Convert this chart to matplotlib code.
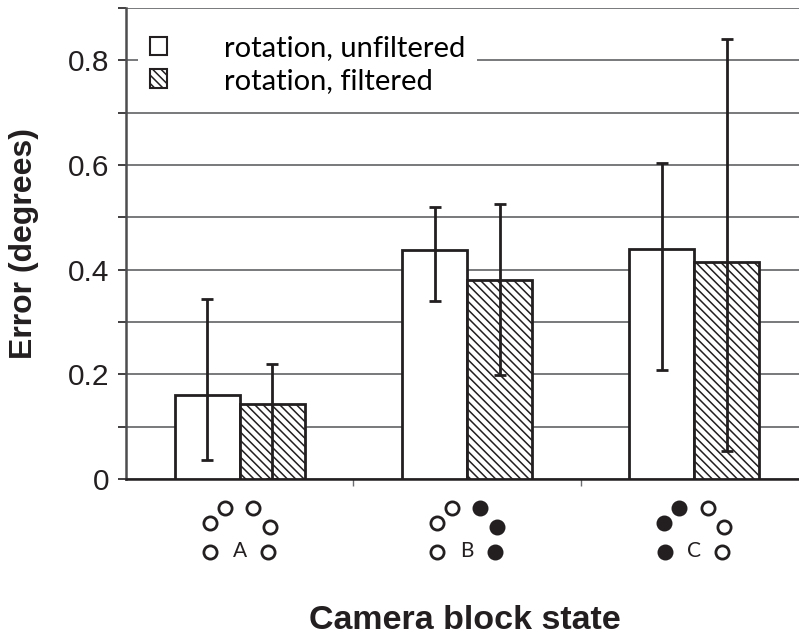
import matplotlib
matplotlib.use("Agg")
import matplotlib.pyplot as plt
import matplotlib.transforms as mtransforms
import numpy as np

# camera block states
states = ["A", "B", "C"]

# mean rotation error (degrees) and error bar ends
unfiltered = [0.16, 0.438, 0.44]
unfiltered_lo = [0.036, 0.341, 0.209]
unfiltered_hi = [0.344, 0.519, 0.603]

filtered = [0.143, 0.381, 0.415]
filtered_lo = [0.0, 0.199, 0.054]
filtered_hi = [0.22, 0.526, 0.84]

# which of the six cameras are blocked in each state
# order: outer-left, inner-left, inner-right, outer-right, bottom-left, bottom-right
blocked = [
    [0, 0, 0, 0, 0, 0],
    [0, 0, 1, 1, 0, 1],
    [1, 1, 0, 0, 1, 0],
]

plt.rcParams["font.family"] = ["Liberation Sans", "DejaVu Sans"]

fig = plt.figure(figsize=(7.99, 6.37), dpi=100)
ax = fig.add_axes([0.1577, 0.248, 0.8536, 0.7394])

x = np.arange(len(states))
w = 0.286
ink = "#231f20"

unf = np.array(unfiltered)
fil = np.array(filtered)
err_u = [unf - np.array(unfiltered_lo), np.array(unfiltered_hi) - unf]
err_f = [fil - np.array(filtered_lo), np.array(filtered_hi) - fil]

plt.rcParams["hatch.linewidth"] = 1.1
ax.bar(x - w / 2, unf, w, color="white", edgecolor=ink, linewidth=2.0,
       label="rotation, unfiltered", zorder=3)
ax.bar(x + w / 2, fil, w, color="white", edgecolor=ink, linewidth=2.0,
       hatch="\\\\\\\\", label="rotation, filtered", zorder=3)
ax.errorbar(x - w / 2, unf, yerr=err_u, fmt="none", ecolor=ink,
            elinewidth=2.0, capsize=4.5, capthick=2.0, zorder=4)
ax.errorbar(x + w / 2, fil, yerr=err_f, fmt="none", ecolor=ink,
            elinewidth=2.0, capsize=4.5, capthick=2.0, zorder=4)

ax.set_xlim(-0.5, 2.5)
ax.set_ylim(0, 0.9)
ax.set_yticks([0, 0.2, 0.4, 0.6, 0.8])
ax.set_yticklabels(["0", "0.2", "0.4", "0.6", "0.8"])
ax.set_yticks(np.arange(0, 0.91, 0.1), minor=True)
ax.yaxis.grid(True, which="both", color="#6d6e71", linewidth=1.3, zorder=0)
ax.tick_params(axis="y", which="both", length=6, width=1.2, color=ink,
               labelsize=21.5, pad=6, labelcolor=ink)
ax.set_xticks([])
ax.set_xticks([0.5, 1.5], minor=True)
ax.tick_params(axis="x", which="minor", length=5, width=1.0, color="#6d6e71")

for side in ["top", "right"]:
    ax.spines[side].set_visible(False)
ax.spines["left"].set_color("#4d4d4f")
ax.spines["left"].set_linewidth(1.8)
ax.spines["bottom"].set_color(ink)
ax.spines["bottom"].set_linewidth(1.8)

ax.set_ylabel("Error (degrees)", fontsize=23, fontweight="bold",
              labelpad=21, color=ink)
fig.text(0.582, 0.002, "Camera block state", fontsize=24.5, fontweight="bold",
         ha="center", va="bottom", color=ink)

leg = ax.legend(loc="upper left", bbox_to_anchor=(0.005, 0.985), frameon=True,
                handlelength=0.6, handleheight=0.6,
                handletextpad=1.95, borderaxespad=0.3, labelspacing=0.22,
                prop={"family": ["Lato", "DejaVu Sans"], "size": 21})
leg.get_frame().set_edgecolor("none")
leg.get_frame().set_facecolor("white")
leg.get_frame().set_alpha(1.0)
for patch in leg.get_patches():
    patch.set_linewidth(1.5)
leg.set_zorder(5)

# camera layout icons under each group
trans = mtransforms.blended_transform_factory(ax.transData, ax.transAxes)
cam_dx = [-0.132, -0.066, 0.059, 0.132, -0.13, 0.123]
cam_dy = [-0.093, -0.062, -0.062, -0.102, -0.155, -0.155]
for i, state in enumerate(states):
    for dx, dy, b in zip(cam_dx, cam_dy, blocked[i]):
        ax.plot(x[i] + dx, dy, marker="o", markersize=9.5,
                markerfacecolor=ink if b else "white",
                markeredgecolor=ink, markeredgewidth=2.0,
                transform=trans, clip_on=False, linestyle="none")
    ax.text(x[i] + 0.0, -0.152, state, transform=trans, ha="center",
            va="center", fontsize=15, color=ink,
            family=["Lato", "DejaVu Sans"])

fig.savefig("out.png", dpi=100)
